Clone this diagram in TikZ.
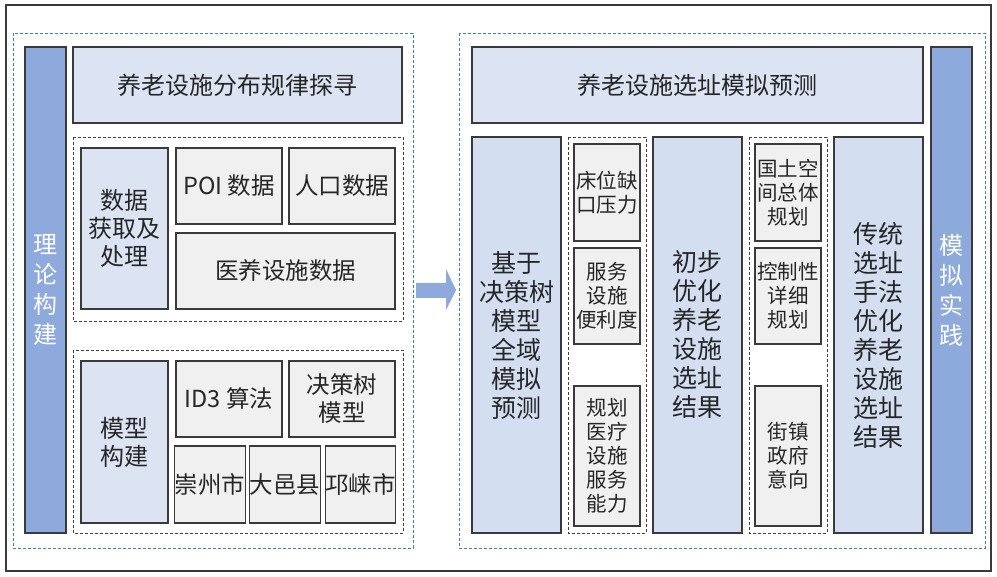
\documentclass[tikz,border=0pt]{standalone}
\usepackage{fontspec}
\setmainfont{Noto Sans CJK SC}
\definecolor{barblue}{HTML}{8EA9DB}
\definecolor{paleblue}{HTML}{DCE4F4}
\definecolor{colblue}{HTML}{D3DEF1}
\definecolor{cellgray}{HTML}{F0F0F0}
\definecolor{edgegray}{HTML}{3A3A3A}
\definecolor{dashteal}{HTML}{4A7F99}
\tikzset{
 box/.style={draw=edgegray,line width=1.2pt,inner sep=0pt,align=center,text=black!85},
 headbox/.style={box,fill=paleblue,font=\fontsize{24}{28}\selectfont},
 barbox/.style={box,fill=barblue,text=white,font=\fontsize{24}{30}\selectfont},
 colbox/.style={box,fill=colblue,font=\fontsize{25}{29}\selectfont},
 cellbox/.style={box,fill=cellgray,font=\fontsize{23.5}{28}\selectfont},
 smallbox/.style={box,fill=cellgray,font=\fontsize{20.5}{24}\selectfont},
 framebox/.style={draw=dashteal,dash pattern=on 3pt off 2pt,line width=0.9pt},
 grpbox/.style={draw=black!75,dash pattern=on 3pt off 2pt,line width=0.9pt}
}
% style, name, x1, y1, x2, y2, text
\newcommand{\boxat}[7]{\node[#1,minimum width={(#5-#3)*1pt},minimum height={(#6-#4)*1pt}] (#2) at ({(#3+#5)/2},{(#4+#6)/2}) {#7};}
\begin{document}
\begin{tikzpicture}[x=1pt,y=-1pt]
\fill[white] (0,0) rectangle (997,577);
\useasboundingbox (0,0) rectangle (997,577);
\draw[edgegray,line width=1.3pt] (6,5) rectangle (991,571);
\draw[framebox] (13,33) rectangle (413,548) (459,33) rectangle (985,548);
% left half
\boxat{barbox}{lbar}{25}{47}{66}{533}{理\\论\\构\\建}
\boxat{headbox}{lhead}{73}{47}{402}{123}{养老设施分布规律探寻}
\draw[grpbox] (73,137) rectangle (403,321) (73,350) rectangle (403,533);
\boxat{headbox}{dproc}{81}{148}{168}{309}{数据\\获取及\\处理}
\boxat{cellbox}{poi}{176}{148}{282}{224}{POI 数据}
\boxat{cellbox}{pop}{289}{148}{395}{224}{人口数据}
\boxat{cellbox}{med}{176}{233}{395}{309}{医养设施数据}
\boxat{headbox}{mbuild}{81}{361}{168}{523}{模型\\构建}
\boxat{cellbox}{id3}{176}{361}{282}{437}{ID3 算法}
\boxat{cellbox}{dtree}{289}{361}{395}{437}{决策树\\模型}
\foreach \xa/\xb/\nm/\lab in {176/244/cz/崇州市,251/319/dy/大邑县,326/395/ql/邛崃市}{
 \boxat{cellbox}{\nm}{\xa}{446}{\xb}{523}{\lab}
}
% arrow
\fill[barblue] (416,283) -- (446,283) -- (446,269) -- (456,290) -- (446,310) -- (446,298) -- (416,298) -- cycle;
% right half
\boxat{headbox}{rhead}{472}{47}{923}{123}{养老设施选址模拟预测}
\boxat{barbox}{rbar}{931}{47}{972}{533}{模\\拟\\实\\践}
\boxat{colbox}{sim}{472}{137}{561}{533}{基于\\决策树\\模型\\全域\\模拟\\预测}
\draw[grpbox] (568,137) rectangle (646,533) (749,137) rectangle (827,533);
\boxat{smallbox}{bed}{574}{144}{640}{241}{床位缺\\口压力}
\boxat{smallbox}{conv}{574}{248}{640}{344}{服务\\设施\\便利度}
\boxat{smallbox}{cap}{574}{386}{640}{526}{规划\\医疗\\设施\\服务\\能力}
\boxat{colbox}{prelim}{653}{137}{742}{533}{初步\\优化\\养老\\设施\\选址\\结果}
\boxat{smallbox}{land}{755}{144}{821}{241}{国土空\\间总体\\规划}
\boxat{smallbox}{reg}{755}{248}{821}{344}{控制性\\详细\\规划}
\boxat{smallbox}{gov}{755}{386}{821}{526}{街镇\\政府\\意向}
\boxat{colbox}{trad}{834}{137}{923}{533}{传统\\选址\\手法\\优化\\养老\\设施\\选址\\结果}
\end{tikzpicture}
\end{document}
